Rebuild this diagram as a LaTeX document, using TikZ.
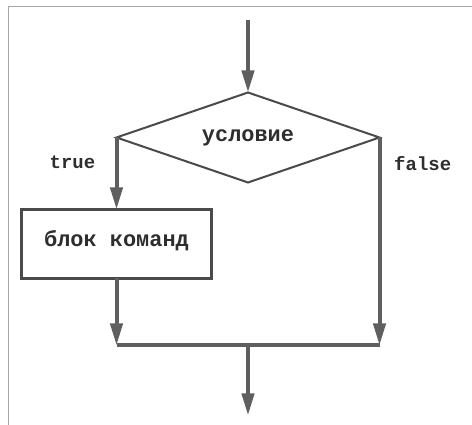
\documentclass[tikz,border=0pt]{standalone}
\usepackage{fontspec}
\setmonofont{Liberation Mono}
\usetikzlibrary{positioning,arrows.meta,shapes.geometric}
\definecolor{linegray}{HTML}{5F5F5F}
\definecolor{edgegray}{HTML}{4A4A4A}
\definecolor{txtgray}{HTML}{2E2E2E}

\begin{document}
\begin{tikzpicture}[
    node distance=1.8cm,
    cond/.style={diamond, aspect=2.92, draw=edgegray, line width=0.05cm, minimum width=6.575cm, minimum height=2.25cm, inner sep=0pt, outer sep=0pt, text=txtgray, font=\ttfamily\bfseries\fontsize{15.6}{18}\selectfont},
    block/.style={draw=edgegray, line width=0.075cm, minimum width=4.75cm, minimum height=1.725cm, inner sep=0pt, outer sep=0pt, text depth=0.3cm, text=txtgray, font=\ttfamily\bfseries\fontsize{15.6}{18}\selectfont},
    lbl/.style={text=txtgray, font=\ttfamily\bfseries\fontsize{13.5}{16}\selectfont},
    arrow/.style={-{Triangle[length=0.55cm, width=0.3cm]}, line width=0.1cm, linegray},
    joint/.style={line width=0.1cm, linegray}
]
\useasboundingbox (0,0) rectangle (11.8,10.625);
\draw[gray!70, line width=0.6pt] (0.2,0) -- (0.2,10.46) -- (11.8,10.46);

\node[cond] (check) at (6.2,7.1875) {условие};
\coordinate[above=1.81cm of check.north] (entry);
\node[block, below=of check.west] (body) {блок команд};
\coordinate[below=1.675cm of body.south] (joinL);
\coordinate (joinR) at (check.east |- joinL);
\coordinate (joinC) at (check.south |- joinL);
\coordinate[below=1.75cm of joinC] (exit);

\node[lbl] (yes) at ([xshift=-1.1cm, yshift=-0.63cm]check.west) {true};
\node[lbl] (no) at ([xshift=1.08cm, yshift=-0.65cm]check.east) {false};

\draw[arrow] (entry) -- (check.north);
\draw[arrow] (check.west) -- (body.north);
\draw[arrow] (body.south) -- (joinL);
\draw[arrow] (check.east) -- (joinR);
\draw[joint] (joinL) -- (joinR);
\draw[arrow] (joinC) -- (exit);
\end{tikzpicture}
\end{document}
